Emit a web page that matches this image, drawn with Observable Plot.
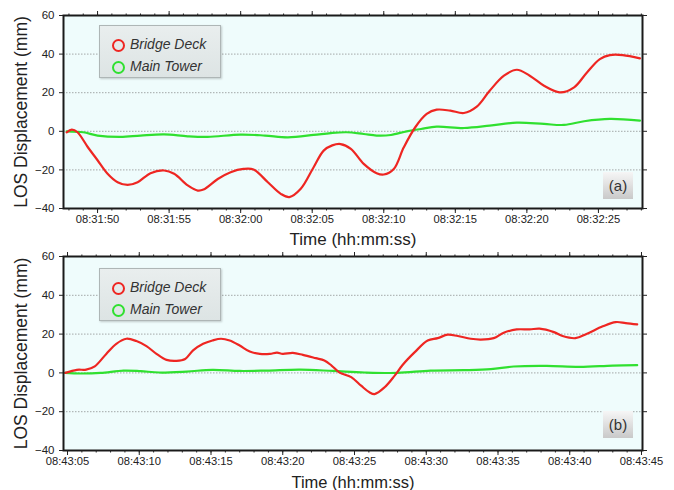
<!DOCTYPE html>
<html><head><meta charset="utf-8">
<script src="https://cdn.jsdelivr.net/npm/d3@7"></script>
<script src="https://cdn.jsdelivr.net/npm/@observablehq/plot@0.6"></script>
<style>
body{margin:0;background:#fff;font-family:"Liberation Sans",Arial,sans-serif;}
#wrap{position:relative;width:674px;height:490px;overflow:hidden;}
.panel{position:absolute;left:0;}
.legend{position:absolute;left:99px;width:122px;height:53px;box-sizing:border-box;border:1px solid #aeb6b6;background:linear-gradient(#e9eeee,#dde4e4);box-shadow:1px 1px 2px rgba(0,0,0,0.2);}
.item{position:absolute;left:0;height:20px;font-style:italic;font-size:14px;color:#333;white-space:nowrap;}
.item .dot{position:absolute;left:12px;top:4px;width:9px;height:9px;border-radius:50%;border:2px solid;}
.item span{position:absolute;left:30px;top:1px;}
.tag{position:absolute;left:603px;width:30px;height:27px;background:linear-gradient(#f6f6f6,#c9c9c9);color:#333;font-size:15px;line-height:27px;text-align:center;}
</style>
</head><body>
<div id="wrap"></div>
<script>
// ---- data (seconds relative to panel base time, displacement in mm) ----
const seriesNames = ["Bridge Deck", "Main Tower"];
const panelLabels = ["(a)", "(b)"];
const baseTimes = ["08:31:50", "08:43:05"];
const xDomainA = [-2.38, 38.08];
const xDomainB = [-0.28, 40.07];
const yTicks = [-40, -20, 0, 20, 40, 60];
const gridTicks = [-20, 0, 20, 40];

const deckA_t = [-2.16,-1.8,-1.4,-0.7,0,0.7,1.4,2.1,2.8,3.7,4.65,5.35,6.3,7,7.4,8.4,9.3,10.2,10.9,11.9,12.8,13.4,14.2,15.1,15.8,16.4,16.98,17.7,18.6,19.5,20,20.7,21.4,22.2,23,23.7,24.65,25.6,26.5,27.4,28.4,29.3,30.2,31.2,32.3,33.3,34.2,35.1,35.8,36.7,37.9];
const deckA_v = [-0.5,0.9,-0.5,-8,-15,-22,-26.4,-27.8,-26.4,-21.7,-20.3,-22,-28,-30.7,-30.2,-24.7,-21.2,-19.5,-19.8,-26.4,-32.4,-34.1,-29.8,-18.6,-10,-7.3,-6.6,-9.1,-16.9,-21.7,-22.4,-19.5,-8.3,2.1,9,11.2,10.7,9.5,12.8,21,28.8,31.9,28.8,23.6,20.2,22.8,30.5,37.4,39.5,39.5,37.8];
const towerA_t = [-2.16,-1,0,1.6,3,4.65,6.3,7.7,10,11.7,13.3,15.1,16.3,17.4,18.6,19.5,20.5,21.6,22.6,23.7,25.6,27.4,29.3,31.2,32.6,34,35.8,37.9];
const towerA_v = [0,-0.5,-2.2,-2.9,-2.2,-1.6,-2.6,-2.9,-1.7,-2.2,-3.1,-1.9,-0.9,-0.5,-1.4,-2.2,-1.9,0,1.2,2.4,1.7,2.9,4.5,3.8,3.3,5.2,6.4,5.5];

const deckB_t = [-0.16,0.65,1.3,1.9,2.7,3.4,4.1,4.8,5.5,6.2,6.9,7.6,8.2,8.75,9.45,10.1,10.7,11.3,12,12.7,13.4,14.1,14.6,15,15.7,16.4,17.3,17.9,18.4,18.94,19.77,20.46,21.04,21.4,22.1,22.8,23.35,24.2,25.1,25.8,26.5,27.2,28.1,28.8,29.7,30.4,31.3,32.2,32.9,33.9,34.5,35.4,36.2,37.3,38.2,38.9,39.7];
const deckB_v = [0,1.6,1.7,3.4,9.8,15,17.6,16.4,13.8,9.8,6.7,6.2,7.2,11.6,15,16.7,17.6,16.7,14.1,11,9.8,9.8,10.4,9.8,10.3,9.3,7.6,6.4,3.8,0.3,-2.2,-6.6,-10,-10.9,-7.4,-1.4,4.1,10.7,16.7,17.9,19.7,19,17.6,17.2,17.9,20.7,22.4,22.4,22.8,21,19,17.9,20.2,24,26.2,25.7,25];
const towerB_t = [-0.16,0.9,2.3,3.9,5.1,6.4,8.3,10.1,12,13.9,16.2,18.5,20.7,23,25.3,27.6,29.5,31.1,33.4,35.7,38,39.7];
const towerB_v = [0,-0.3,0,1.2,0.9,0.2,0.7,1.6,1,1.2,1.7,1,0.2,0,1.2,1.4,1.9,3.3,3.6,3.1,3.8,4];

const colors = ["#ee2622", "#30e030"];

function makePanel(baseStr, domainS, dT, dV, tT, tV, mt, mb, h, xLabelOffset, xLabelSize) {
  const [hh, mm, ss] = baseStr.split(":").map(Number);
  const base = Date.UTC(2000, 0, 1, hh, mm, ss);
  const toDate = s => new Date(base + s * 1000);
  const deck = dT.map((t, i) => ({t: toDate(t), v: dV[i]}));
  const tower = tT.map((t, i) => ({t: toDate(t), v: tV[i]}));
  const major = d3.utcSecond.every(5);
  const minor = d3.utcSecond.every(1);
  const fmt = d3.utcFormat("%H:%M:%S");
  const yfmt = d3.format("d");
  const blank = () => "";
  return Plot.plot({
    width: 674, height: h,
    marginLeft: 63, marginRight: 32, marginTop: mt, marginBottom: mb,
    x: {type: "utc", domain: domainS.map(toDate)},
    y: {domain: [-40, 60]},
    style: {fontFamily: "'Liberation Sans', Arial, sans-serif", background: "transparent", color: "#222", overflow: "visible"},
    marks: [
      Plot.frame({fill: "#effcfc", stroke: null}),
      Plot.gridY(gridTicks, {stroke: "#777", strokeOpacity: 0.8, strokeDasharray: "1.5,1.5", strokeWidth: 0.8}),
      Plot.line(tower, {x: "t", y: "v", stroke: colors[1], strokeWidth: 2.2, curve: "catmull-rom"}),
      Plot.line(deck, {x: "t", y: "v", stroke: colors[0], strokeWidth: 2.2, curve: "catmull-rom"}),
      Plot.frame({stroke: "#1a1a1a", strokeWidth: 2}),
      Plot.axisX({ticks: major, tickFormat: fmt, tickSize: 5, tickPadding: 1.5, fontSize: 11.2, label: null}),
      Plot.axisX({ticks: minor, tickFormat: blank, tickSize: 2.5, label: null}),
      Plot.axisX({anchor: "top", ticks: major, tickFormat: blank, tickSize: 5, label: null}),
      Plot.axisX({anchor: "top", ticks: minor, tickFormat: blank, tickSize: 2.5, label: null}),
      Plot.axisY({ticks: yTicks, tickFormat: yfmt, tickSize: 4, tickPadding: 5, fontSize: 11.5, label: null}),
      Plot.axisY({anchor: "right", ticks: yTicks, tickFormat: blank, tickSize: 4, label: null}),
      Plot.axisX({ticks: [], label: "Time (hh:mm:ss)", labelAnchor: "center", labelOffset: xLabelOffset, labelArrow: "none", fontSize: xLabelSize}),
      Plot.axisY({ticks: [], label: "LOS Displacement (mm)", labelAnchor: "center", labelOffset: 49, labelArrow: "none", fontSize: 17.5})
    ]
  });
}

const wrap = document.getElementById("wrap");
function addPanel(svg, top) {
  svg.classList.add("panel");
  svg.style.top = top + "px";
  wrap.appendChild(svg);
}
function addLegend(top) {
  const lg = document.createElement("div");
  lg.className = "legend";
  lg.style.top = top + "px";
  seriesNames.forEach((n, i) => {
    const it = document.createElement("div");
    it.className = "item";
    it.style.top = (9 + i * 22) + "px";
    const dot = document.createElement("div");
    dot.className = "dot";
    dot.style.borderColor = colors[i];
    const sp = document.createElement("span");
    sp.textContent = n;
    it.appendChild(dot); it.appendChild(sp);
    lg.appendChild(it);
  });
  wrap.appendChild(lg);
}
function addTag(text, top) {
  const t = document.createElement("div");
  t.className = "tag";
  t.style.top = top + "px";
  t.textContent = text;
  wrap.appendChild(t);
}

addPanel(makePanel(baseTimes[0], xDomainA, deckA_t, deckA_v, towerA_t, towerA_v, 15, 42, 250, 36, 17), 0);
addPanel(makePanel(baseTimes[1], xDomainB, deckB_t, deckB_v, towerB_t, towerB_v, 8, 40, 242, 37, 16.5), 248);
addLegend(25); addLegend(268);
addTag(panelLabels[0], 172); addTag(panelLabels[1], 411);
</script>
</body></html>
